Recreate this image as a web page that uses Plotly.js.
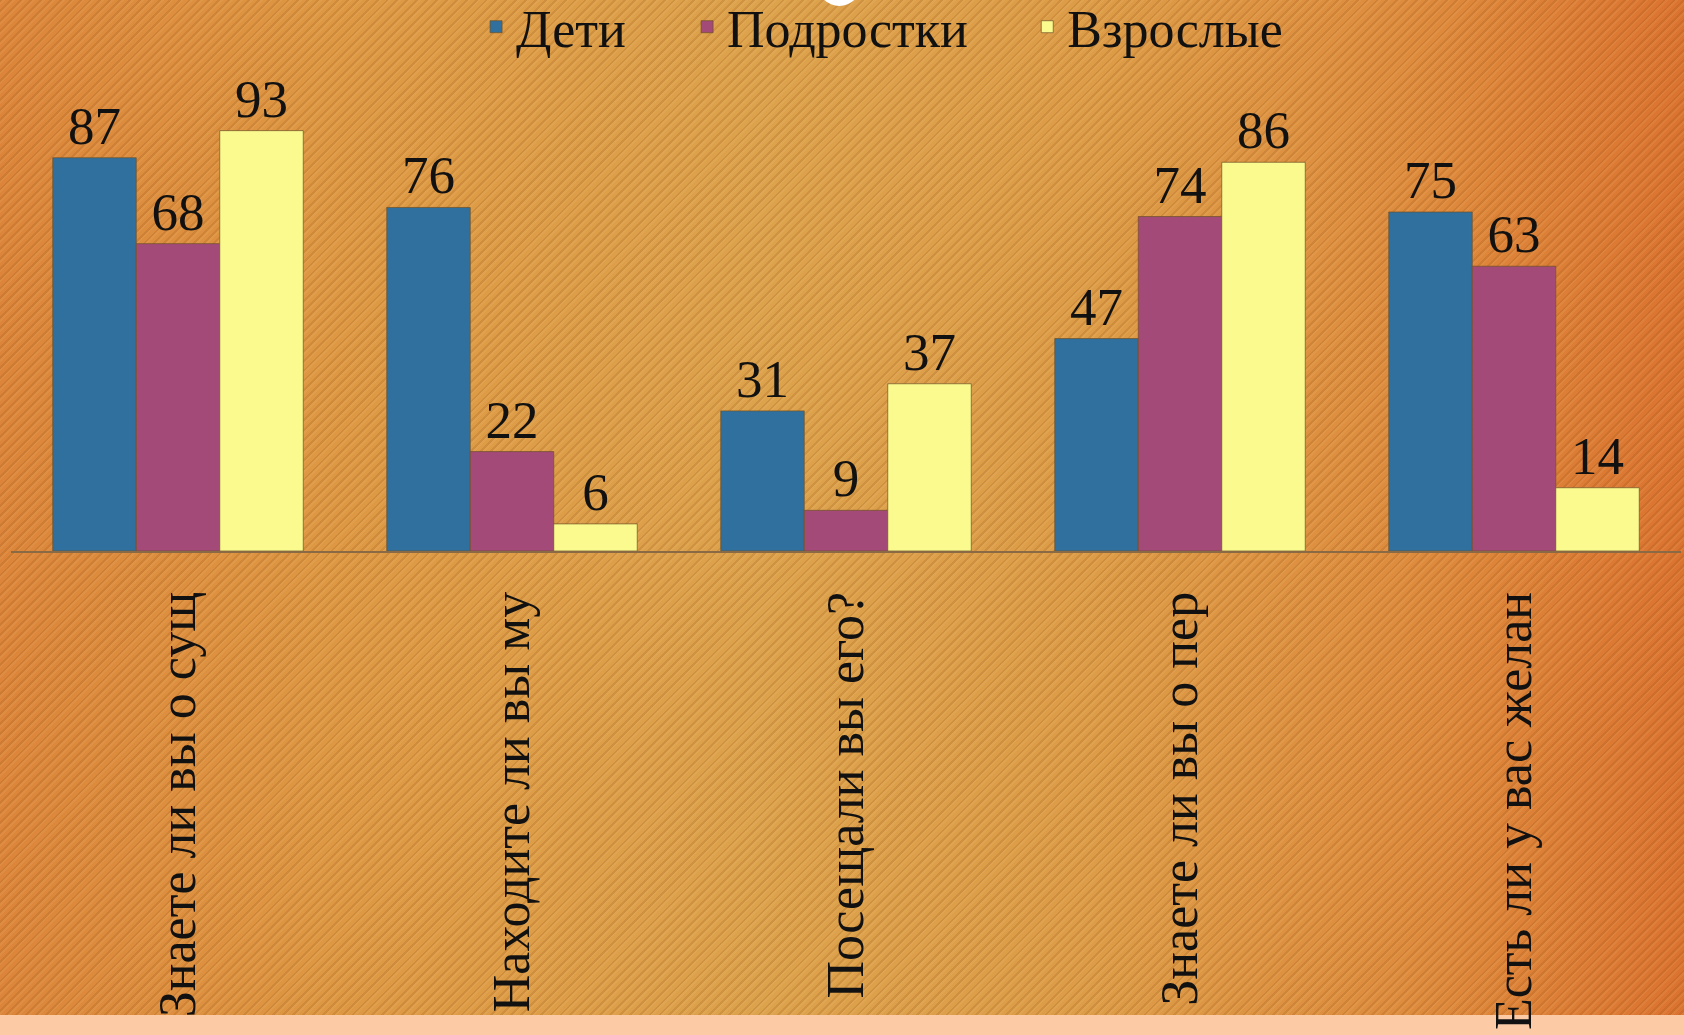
<!DOCTYPE html>
<html>
<head>
<meta charset="utf-8">
<script src="https://cdn.plot.ly/plotly-3.0.1.min.js"></script>
<style>
  html, body { margin: 0; padding: 0; }
  body {
    width: 1684px; height: 1035px; overflow: hidden;
    background:
      repeating-linear-gradient(135deg, rgba(130,70,15,0.16) 0px, rgba(130,70,15,0.16) 2px, rgba(255,235,180,0.07) 2px, rgba(255,235,180,0.07) 4px, rgba(0,0,0,0) 4px, rgba(0,0,0,0) 7px),
      linear-gradient(90deg, #DC853A 0%, #DE9843 20%, #DDA24C 45%, #DD9C47 65%, #DE8A3C 85%, #DB7330 100%);
  }
  #chart { width: 1684px; height: 1035px; }
</style>
</head>
<body>
<div id="chart"></div>
<script>
const categories = [
  "Знаете ли вы о сущ",
  "Находите ли вы му",
  "Посещали вы его?",
  "Знаете ли вы о пер",
  "Есть ли у вас желан"
];
const seriesNames = ["Дети", "Подростки", "Взрослые"];
const children = [87, 76, 31, 47, 75];
const teens = [68, 22, 9, 74, 63];
const adults = [93, 6, 37, 86, 14];
const colors = ["#2F709E", "#A34A78", "#FAFA8E"];

const serif = "'Liberation Serif', 'DejaVu Serif', serif";
const values = [children, teens, adults];
const legendIds = ["legend", "legend2", "legend3"];
const legendX = [0.2827, 0.408, 0.610];

const data = values.map((v, i) => ({
  type: "bar",
  name: seriesNames[i],
  legend: legendIds[i],
  x: categories,
  y: v,
  text: v.map(String),
  textposition: "outside",
  cliponaxis: false,
  textfont: { family: serif, size: 53, color: "#111" },
  marker: { color: colors[i], line: { color: "rgba(110,80,40,0.7)", width: 1 } }
}));

function legendSpec(x) {
  return {
    orientation: "h",
    xref: "container", yref: "container",
    x: x, xanchor: "left",
    y: 0.974, yanchor: "middle",
    font: { family: serif, size: 52, color: "#111" },
    bgcolor: "rgba(0,0,0,0)",
    itemwidth: 30
  };
}

const layout = {
  width: 1684,
  height: 1035,
  margin: { l: 11, r: 3, t: 99, b: 484, autoexpand: false },
  paper_bgcolor: "rgba(0,0,0,0)",
  plot_bgcolor: "rgba(0,0,0,0)",
  barmode: "group",
  bargap: 0.25,
  bargroupgap: 0,
  showlegend: true,
  legend: legendSpec(legendX[0]),
  legend2: legendSpec(legendX[1]),
  legend3: legendSpec(legendX[2]),
  xaxis: {
    type: "category",
    automargin: false,
    tickangle: -90,
    ticks: "",
    ticklabelstandoff: 18,
    tickfont: { family: serif, size: 52, color: "#111" },
    showline: true,
    linecolor: "#8A6A45",
    linewidth: 2,
    showgrid: false,
    zeroline: false
  },
  yaxis: {
    range: [0, 100],
    visible: false,
    automargin: false,
    showgrid: false,
    zeroline: false
  },
  shapes: [
    { type: "rect", xref: "paper", yref: "paper", x0: -0.02, x1: 1.02, y0: -1.0265, y1: -1.09,
      fillcolor: "#FCCBA6", line: { width: 0 }, layer: "below" },
    { type: "circle", xref: "paper", yref: "paper", x0: 0.483, x1: 0.509, y0: 1.206, y1: 1.30,
      fillcolor: "#FFFFFF", line: { width: 0 }, layer: "above" }
  ]
};

Plotly.newPlot("chart", data, layout, { displayModeBar: false, staticPlot: true });
</script>
</body>
</html>
